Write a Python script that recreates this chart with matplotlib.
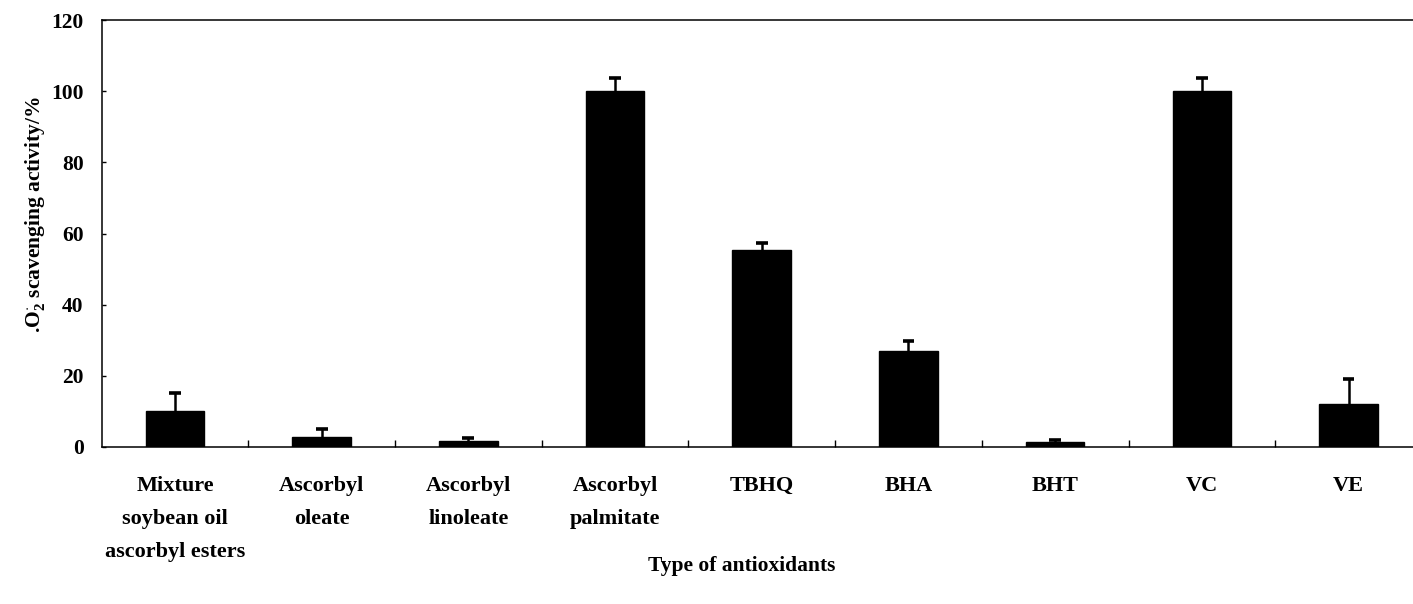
import matplotlib
matplotlib.use("Agg")
import matplotlib.pyplot as plt
import numpy as np

categories = ["Mixture\nsoybean oil\nascorbyl esters", "Ascorbyl\noleate", "Ascorbyl\nlinoleate",
              "Ascorbyl\npalmitate", "TBHQ", "BHA", "BHT", "VC", "VE"]
values = [10.2, 2.9, 1.7, 100.1, 55.4, 27.0, 1.4, 100.1, 12.1]
errors = [5.1, 2.2, 0.9, 3.7, 2.0, 2.8, 0.5, 3.7, 7.0]
yticks = [0, 20, 40, 60, 80, 100, 120]

plt.rcParams['font.family'] = ['Liberation Serif', 'DejaVu Serif']
plt.rcParams['font.weight'] = 'bold'
plt.rcParams['mathtext.fontset'] = 'custom'
plt.rcParams['mathtext.rm'] = 'Liberation Serif:bold'
plt.rcParams['mathtext.bf'] = 'Liberation Serif:bold'
plt.rcParams['mathtext.it'] = 'Liberation Serif:bold'

W, H = 1413, 604
fig = plt.figure(figsize=(W / 100, H / 100), dpi=100)
left_px, right_px, top_px, bottom_px = 101.6, 1421.9, 20, 447
ax = fig.add_axes([left_px / W, 1 - bottom_px / H, (right_px - left_px) / W, (bottom_px - top_px) / H])

x = np.arange(len(categories))
ax.bar(x, values, width=0.4, color='black', edgecolor='black', zorder=3)
tops = np.array(values) + np.array(errors)
ax.vlines(x, values, tops, color='black', linewidth=1.8, zorder=4)
ax.hlines(tops, x - 0.04, x + 0.04, color='black', linewidth=2.6, zorder=4)

ax.set_xlim(-0.5, len(categories) - 0.5)
ax.set_ylim(0, 120)
ax.set_yticks(yticks)
ax.set_yticklabels([str(t) for t in yticks], fontsize=15.5, fontweight='bold')
ax.set_xticks(x)
ax.set_xticklabels(categories, fontsize=16, fontweight='bold', linespacing=1.85, va='top')
ax.set_xticks(np.arange(0.5, len(categories) - 0.5, 1.0), minor=True)
ax.tick_params(axis='x', which='major', length=0, pad=21)
ax.tick_params(axis='x', which='minor', direction='in', length=5, width=1)
ax.tick_params(axis='y', direction='in', length=3, width=1, pad=13)

for s in ['left', 'top', 'bottom', 'right']:
    ax.spines[s].set_linewidth(1.1)
    ax.spines[s].set_color('black')

fig.text(35 / W, 1 - 215 / H, r".O$_2^{\cdot}$ scavenging activity/%", rotation=90,
         ha='center', va='center', fontsize=15.5, fontweight='bold')
fig.text(742 / W, 1 - 566 / H, "Type of antioxidants", ha='center', va='center',
         fontsize=15.5, fontweight='bold')

fig.savefig("out.png", dpi=100)
